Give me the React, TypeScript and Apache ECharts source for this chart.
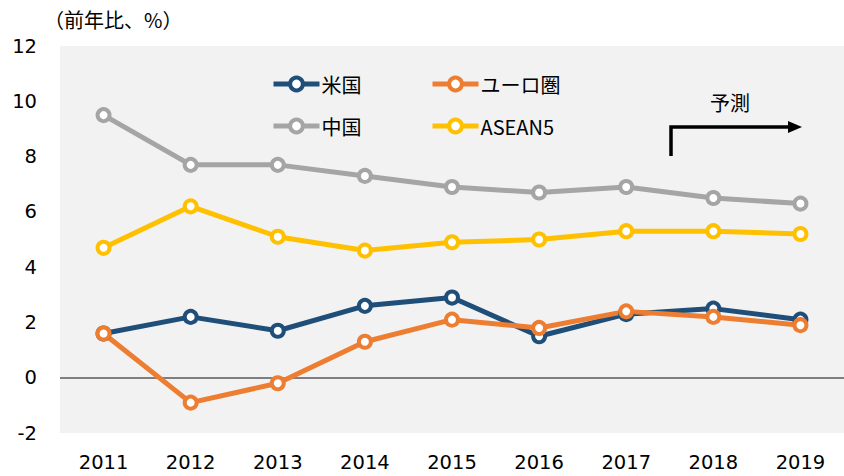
import React, { useEffect, useRef } from "react";
import * as echarts from "echarts";

const years = ["2011", "2012", "2013", "2014", "2015", "2016", "2017", "2018", "2019"];
const usa = [1.6, 2.2, 1.7, 2.6, 2.9, 1.5, 2.3, 2.5, 2.1];
const euro = [1.6, -0.9, -0.2, 1.3, 2.1, 1.8, 2.4, 2.2, 1.9];
const china = [9.5, 7.7, 7.7, 7.3, 6.9, 6.7, 6.9, 6.5, 6.3];
const asean5 = [4.7, 6.2, 5.1, 4.6, 4.9, 5.0, 5.3, 5.3, 5.2];

const seriesNames = ["米国", "ユーロ圏", "中国", "ASEAN5"];
const colors = ["#1F4E79", "#ED7D31", "#A5A5A5", "#FFC000"];

const numFont = "DejaVu Sans";
const jpFont = "'Noto Sans CJK JP', sans-serif";

export default function App() {
  const ref = useRef<HTMLDivElement>(null);
  useEffect(() => {
    if (!ref.current) return;
    const chart = echarts.init(ref.current, null, { renderer: "svg" });
    const datas = [usa, euro, china, asean5];
    const legendPos = [
      { left: 271, top: 74 },
      { left: 430, top: 74 },
      { left: 271, top: 116 },
      { left: 430, top: 116 },
    ];
    chart.setOption({
      animation: false,
      grid: {
        left: 60,
        right: 0,
        top: 46,
        bottom: 43,
        show: true,
        backgroundColor: "#F2F2F2",
        borderWidth: 0,
      },
      legend: seriesNames.map((n, i) => ({
        data: [n],
        left: legendPos[i].left,
        top: legendPos[i].top,
        padding: 0,
        itemWidth: 46,
        itemHeight: 16,
        itemGap: 2,
        lineStyle: { width: 5 },
        itemStyle: { borderWidth: 4 },
        textStyle: { fontFamily: jpFont, fontSize: 20, color: "#000", padding: [0, 0, 0, -3] },
        selectedMode: false,
      })),
      xAxis: {
        type: "category",
        data: years,
        axisLine: { show: false, onZero: false },
        axisTick: { show: false },
        axisLabel: { fontFamily: numFont, fontSize: 19.5, color: "#000", margin: 19 },
      },
      yAxis: {
        type: "value",
        min: -2,
        max: 12,
        interval: 2,
        splitLine: { show: false },
        axisLine: { show: false },
        axisTick: { show: false },
        axisLabel: {
          fontFamily: numFont,
          fontSize: 19.5,
          color: "#000",
          margin: 23,
          padding: [0, 0, 5, 0],
        },
      },
      series: seriesNames.map((n, i) => ({
        name: n,
        type: "line",
        data: datas[i],
        color: colors[i],
        symbol: "circle",
        symbolSize: 12,
        showSymbol: true,
        lineStyle: { width: 5, color: colors[i] },
        itemStyle: { color: "#FFFFFF", borderColor: colors[i], borderWidth: 4 },
        z: 3,
        markLine:
          i === 0
            ? {
                silent: true,
                symbol: "none",
                label: { show: false },
                lineStyle: { color: "#7F7F7F", width: 2, type: "solid" },
                data: [{ yAxis: 0 }],
                z: 1,
              }
            : undefined,
      })),
      graphic: [
        {
          type: "text",
          left: 44,
          top: 9,
          style: { text: "（前年比、%）", fontFamily: jpFont, fontSize: 20, fill: "#000" },
        },
        {
          type: "text",
          left: 710,
          top: 92,
          style: { text: "予測", fontFamily: jpFont, fontSize: 20, fill: "#000" },
        },
        {
          type: "polyline",
          shape: { points: [[671, 156], [671, 127], [789, 127]] },
          style: { stroke: "#000", lineWidth: 3.5, fill: "none" },
        },
        {
          type: "polygon",
          shape: { points: [[788, 121], [802, 127], [788, 133]] },
          style: { fill: "#000" },
        },
      ],
    });
    return () => chart.dispose();
  }, []);
  return (
    <div
      ref={ref}
      style={{ position: "absolute", left: 0, top: 0, width: 844, height: 476 }}
    />
  );
}
